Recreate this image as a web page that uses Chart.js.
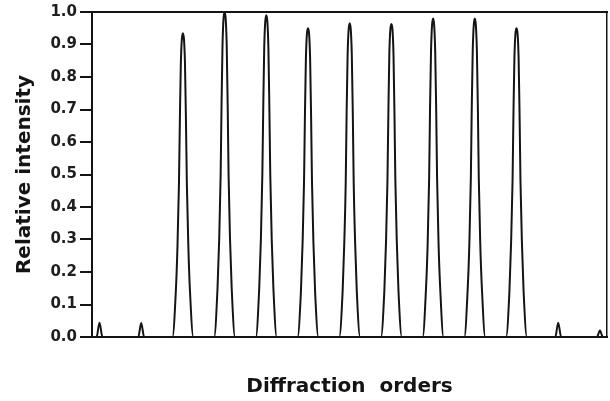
<!DOCTYPE html>
<html>
<head>
<meta charset="utf-8">
<script src="https://cdn.jsdelivr.net/npm/chart.js@4/dist/chart.umd.min.js"></script>
<style>
  html, body { margin: 0; padding: 0; background: #fff; }
  #c { display: block; }
</style>
</head>
<body>
<canvas id="c" width="610" height="401"></canvas>
<script>
// Diffraction order positions (x) and relative intensity (y)
const orderPos = [
  -6.18,
  -6.07, -6.00, -5.93,
  -5.07, -5.00, -4.93,
  -4.25, -4.17, -4.13, -4.095, -4.075, -4.05, -4.00, -3.95, -3.925, -3.905, -3.87, -3.83, -3.75,
  -3.25, -3.17, -3.13, -3.095, -3.075, -3.05, -3.00, -2.95, -2.925, -2.905, -2.87, -2.83, -2.75,
  -2.25, -2.17, -2.13, -2.095, -2.075, -2.05, -2.00, -1.95, -1.925, -1.905, -1.87, -1.83, -1.75,
  -1.25, -1.17, -1.13, -1.095, -1.075, -1.05, -1.00, -0.95, -0.925, -0.905, -0.87, -0.83, -0.75,
  -0.25, -0.17, -0.13, -0.095, -0.075, -0.05, 0.00, 0.05, 0.075, 0.095, 0.13, 0.17, 0.25,
  0.75, 0.83, 0.87, 0.905, 0.925, 0.95, 1.00, 1.05, 1.075, 1.095, 1.13, 1.17, 1.25,
  1.75, 1.83, 1.87, 1.905, 1.925, 1.95, 2.00, 2.05, 2.075, 2.095, 2.13, 2.17, 2.25,
  2.75, 2.83, 2.87, 2.905, 2.925, 2.95, 3.00, 3.05, 3.075, 3.095, 3.13, 3.17, 3.25,
  3.75, 3.83, 3.87, 3.905, 3.925, 3.95, 4.00, 4.05, 4.075, 4.095, 4.13, 4.17, 4.25,
  4.93, 5.00, 5.07,
  5.93, 6.00, 6.07,
  6.17
];
const intensity = [
  0,
  0, 0.044, 0,
  0, 0.043, 0,
  0, 0.14, 0.28, 0.47, 0.65, 0.84, 0.935, 0.84, 0.65, 0.47, 0.28, 0.14, 0,
  0, 0.15, 0.30, 0.50, 0.70, 0.90, 1.000, 0.90, 0.70, 0.50, 0.30, 0.15, 0,
  0, 0.15, 0.30, 0.50, 0.69, 0.89, 0.990, 0.89, 0.69, 0.50, 0.30, 0.15, 0,
  0, 0.14, 0.29, 0.48, 0.67, 0.86, 0.950, 0.86, 0.67, 0.48, 0.29, 0.14, 0,
  0, 0.14, 0.29, 0.48, 0.68, 0.87, 0.965, 0.87, 0.68, 0.48, 0.29, 0.14, 0,
  0, 0.14, 0.29, 0.48, 0.67, 0.87, 0.963, 0.87, 0.67, 0.48, 0.29, 0.14, 0,
  0, 0.15, 0.29, 0.49, 0.69, 0.88, 0.980, 0.88, 0.69, 0.49, 0.29, 0.15, 0,
  0, 0.15, 0.29, 0.49, 0.69, 0.88, 0.980, 0.88, 0.69, 0.49, 0.29, 0.15, 0,
  0, 0.14, 0.29, 0.48, 0.67, 0.86, 0.950, 0.86, 0.67, 0.48, 0.29, 0.14, 0,
  0, 0.044, 0,
  0, 0.020, 0,
  0
];
const yTickLabels = ['0.0','0.1','0.2','0.3','0.4','0.5','0.6','0.7','0.8','0.9','1.0'];
const xTitle = 'Diffraction  orders';
const yTitle = 'Relative intensity';

const points = orderPos.map((x, i) => ({ x: x, y: intensity[i] }));
const INK = '#141414';

new Chart(document.getElementById('c'), {
  type: 'line',
  data: {
    datasets: [{
      data: points,
      borderColor: INK,
      borderWidth: 2,
      pointRadius: 0,
      fill: false,
      cubicInterpolationMode: 'monotone',
      clip: false
    }]
  },
  options: {
    responsive: false,
    animation: false,
    layout: { padding: 0 },
    plugins: { legend: { display: false }, tooltip: { enabled: false } },
    scales: {
      x: {
        type: 'linear', position: 'bottom',
        min: -6.18, max: 6.17,
        ticks: { display: false },
        grid: { display: false },
        border: { display: true, color: INK, width: 2 },
        title: {
          display: true, text: xTitle, color: INK,
          font: { family: 'DejaVu Sans', weight: 'bold', size: 20 },
          padding: { top: 0, bottom: 2 }
        },
        afterFit: s => { s.height = 64; }
      },
      x2: {
        type: 'linear', position: 'top', min: 0, max: 1,
        ticks: { display: false },
        grid: { display: false },
        border: { display: true, color: INK, width: 2 },
        afterFit: s => { s.height = 12; }
      },
      y: {
        type: 'linear', position: 'left',
        min: 0, max: 1,
        ticks: {
          stepSize: 0.1,
          padding: 3,
          color: '#1e1e1e',
          font: { family: 'DejaVu Sans', weight: 'bold', size: 15 },
          callback: (v, i) => yTickLabels[i]
        },
        grid: { display: true, drawOnChartArea: false, drawTicks: true, tickLength: 12, color: INK, lineWidth: 2 },
        border: { display: true, color: INK, width: 2 },
        title: {
          display: true, text: yTitle, color: INK,
          font: { family: 'DejaVu Sans', weight: 'bold', size: 20 },
          padding: { top: 13, bottom: 0 }
        },
        afterFit: s => { s.width = 92; }
      },
      y2: {
        type: 'linear', position: 'right', min: 0, max: 1,
        ticks: { display: false },
        grid: { display: false },
        border: { display: true, color: INK, width: 1.5 },
        afterFit: s => { s.width = 3; }
      }
    }
  }
});
</script>
</body>
</html>
